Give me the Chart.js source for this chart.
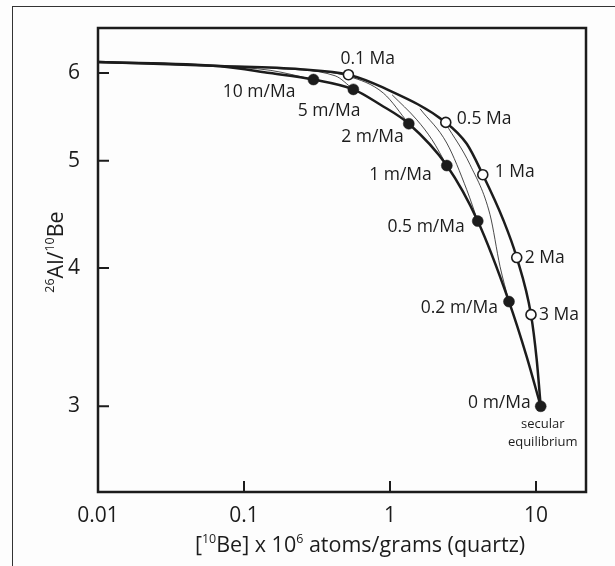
<!DOCTYPE html>
<html>
<head>
<meta charset="utf-8">
<script src="https://cdn.jsdelivr.net/npm/chart.js@4.4.1/dist/chart.umd.min.js"></script>
<style>
  html, body { margin: 0; padding: 0; background: #fdfdfd; }
  #wrap { position: relative; width: 615px; height: 566px; overflow: hidden; }
  #frame { position: absolute; left: 12px; top: 6px; right: -5px; bottom: -5px;
           border-left: 1px solid #333; border-top: 1px solid #333; }
  canvas { position: absolute; left: 0; top: 0; }
</style>
</head>
<body>
<div id="wrap">
  <div id="frame"></div>
  <canvas id="chart" width="615" height="566"></canvas>
</div>
<script>
// ticks
const xTicks = [0.01, 0.1, 1, 10];
const xTickLabels = ['0.01', '0.1', '1', '10'];
const yTicks = [3, 4, 5, 6];
const yTickLabels = ['3', '4', '5', '6'];

// constant exposure, no erosion (open circles = exposure time)
const timeLabels = ['0.1 Ma', '0.5 Ma', '1 Ma', '2 Ma', '3 Ma'];
const timeBe = [0.519, 2.41, 4.32, 7.38, 9.24];
const timeRatio = [5.98, 5.415, 4.857, 4.088, 3.63];

// steady state erosion (filled circles)
const erosionLabels = ['10 m/Ma', '5 m/Ma', '2 m/Ma', '1 m/Ma', '0.5 m/Ma', '0.2 m/Ma', '0 m/Ma'];
const erosionBe = [0.299, 0.561, 1.345, 2.45, 3.99, 6.53, 10.77];
const erosionRatio = [5.92, 5.80, 5.40, 4.95, 4.41, 3.73, 3.0];

// thick bounding curves
const exposureBe = [0.01, 0.0687, 0.2425, 0.519, 0.901, 2.41, 3.355, 4.32, 5.97, 7.38, 9.24, 10.11, 10.77];
const exposureRatio = [6.14, 6.088, 6.048, 5.98, 5.82, 5.415, 5.179, 4.857, 4.42, 4.088, 3.63, 3.305, 3.0];
const steadyBe = [0.01, 0.0687, 0.151, 0.299, 0.561, 0.855, 1.345, 2.45, 3.99, 6.53, 8.63, 10.77];
const steadyRatio = [6.14, 6.085, 6.0, 5.92, 5.80, 5.62, 5.40, 4.95, 4.41, 3.73, 3.327, 3.0];

// thin exposure-with-erosion paths
const path10Be = [0.0687, 0.151, 0.299];
const path10Ratio = [6.088, 6.035, 5.92];
const path5Be = [0.151, 0.421, 0.561];
const path5Ratio = [6.063, 5.966, 5.80];
const path2Be = [0.2425, 0.519, 0.901, 1.345];
const path2Ratio = [6.048, 5.96, 5.755, 5.40];
const path1Be = [1.034, 1.525, 1.941, 2.45];
const path1Ratio = [5.735, 5.445, 5.223, 4.95];
const path05Be = [1.607, 2.448, 3.355, 3.99];
const path05Ratio = [5.57, 5.187, 4.707, 4.41];
const path02Be = [2.41, 3.533, 4.842, 5.67, 6.53];
const path02Ratio = [5.40, 4.959, 4.469, 4.013, 3.73];

const ink = '#1c1c1c';
const pts = (xs, ys) => xs.map((x, i) => ({ x: x, y: ys[i] }));

function curve(xs, ys, w) {
  return {
    data: pts(xs, ys), showLine: true, borderColor: ink, borderWidth: w,
    pointRadius: 0, cubicInterpolationMode: 'monotone', fill: false
  };
}

// label placement relative to the marker: [dx, dy, align]
const timeLabelPos = [[-8, -16, 'left'], [11, -3, 'left'], [12, -3, 'left'], [8, 0, 'left'], [8, 0, 'left']];
const erosionLabelPos = [[-18, 12, 'right'], [7, 22, 'right'], [-5, 13, 'right'], [-15, 9, 'right'],
                         [-13, 6, 'right'], [-11, 6, 'right'], [-10, -3, 'right']];

function richWidth(ctx, parts, size) {
  let w = 0;
  parts.forEach(p => {
    ctx.font = (p[1] ? size * 0.58 : size) + 'px "Open Sans"';
    w += ctx.measureText(p[0]).width;
  });
  return w;
}
function drawRich(ctx, parts, size, x, y) {
  let cx = x;
  parts.forEach(p => {
    ctx.font = (p[1] ? size * 0.58 : size) + 'px "Open Sans"';
    ctx.fillText(p[0], cx, p[1] ? y - size * 0.42 : y);
    cx += ctx.measureText(p[0]).width;
  });
}

const decor = {
  id: 'decor',
  beforeDatasetsDraw(chart) {
    const ctx = chart.ctx, a = chart.chartArea;
    const sx = chart.scales.x, sy = chart.scales.y;
    ctx.save();
    ctx.strokeStyle = ink;
    ctx.lineWidth = 2.5;
    ctx.strokeRect(a.left, a.top, a.right - a.left, a.bottom - a.top);
    ctx.lineWidth = 2;
    ctx.beginPath();
    xTicks.forEach(v => {
      const px = sx.getPixelForValue(v);
      if (px > a.left + 2) { ctx.moveTo(px, a.bottom); ctx.lineTo(px, a.bottom - 11); }
    });
    yTicks.forEach(v => {
      const py = sy.getPixelForValue(v);
      ctx.moveTo(a.left, py); ctx.lineTo(a.left + 11, py);
    });
    ctx.stroke();
    ctx.restore();
  },
  afterDatasetsDraw(chart) {
    const ctx = chart.ctx;
    ctx.save();
    ctx.fillStyle = ink;
    ctx.textBaseline = 'middle';
    ctx.font = '17.5px "Open Sans"';
    const tMeta = chart.getDatasetMeta(0), eMeta = chart.getDatasetMeta(1);
    timeLabels.forEach((t, i) => {
      const p = tMeta.data[i], o = timeLabelPos[i];
      ctx.textAlign = o[2];
      ctx.fillText(t, p.x + o[0], p.y + o[1]);
    });
    erosionLabels.forEach((t, i) => {
      const p = eMeta.data[i], o = erosionLabelPos[i];
      ctx.textAlign = o[2];
      ctx.fillText(t, p.x + o[0], p.y + o[1]);
    });
    const last = eMeta.data[erosionLabels.length - 1];
    ctx.font = '13px "Open Sans"';
    ctx.textAlign = 'center';
    ctx.fillText('secular', last.x + 2, last.y + 18);
    ctx.fillText('equilibrium', last.x + 2, last.y + 36);

    // axis titles
    ctx.textAlign = 'left';
    ctx.textBaseline = 'alphabetic';
    const xParts = [['[', false], ['10', true], ['Be] x 10', false], ['6', true], [' atoms/grams (quartz)', false]];
    const xw = richWidth(ctx, xParts, 21.5);
    drawRich(ctx, xParts, 21.5, 360 - xw / 2, 552);
    const yParts = [['26', true], ['Al/', false], ['10', true], ['Be', false]];
    const yw = richWidth(ctx, yParts, 21.5);
    ctx.translate(63, 252);
    ctx.rotate(-Math.PI / 2);
    drawRich(ctx, yParts, 21.5, -yw / 2, 0);
    ctx.restore();
  }
};

new Chart(document.getElementById('chart'), {
  type: 'scatter',
  data: {
    datasets: [
      { data: pts(timeBe, timeRatio), pointRadius: 5, pointBackgroundColor: '#ffffff',
        pointBorderColor: ink, pointBorderWidth: 1.6, showLine: false },
      { data: pts(erosionBe, erosionRatio), pointRadius: 5.5, pointBackgroundColor: ink,
        pointBorderColor: ink, pointBorderWidth: 0.5, showLine: false },
      curve(exposureBe, exposureRatio, 2.5),
      curve(steadyBe, steadyRatio, 2.5),
      curve(path10Be, path10Ratio, 0.8),
      curve(path5Be, path5Ratio, 0.8),
      curve(path2Be, path2Ratio, 0.8),
      curve(path1Be, path1Ratio, 0.8),
      curve(path05Be, path05Ratio, 0.8),
      curve(path02Be, path02Ratio, 0.8)
    ]
  },
  options: {
    responsive: false,
    animation: false,
    devicePixelRatio: 1,
    layout: { padding: { top: 28, right: 29, left: 0, bottom: 0 } },
    plugins: { legend: { display: false }, tooltip: { enabled: false } },
    scales: {
      x: {
        type: 'logarithmic', min: 0.01, max: 22,
        grid: { display: false }, border: { display: false },
        afterBuildTicks: s => { s.ticks = xTicks.map(v => ({ value: v })); },
        afterFit: s => { s.height = 74; },
        ticks: {
          color: ink, font: { size: 21, family: 'Open Sans' }, padding: 3, maxRotation: 0,
          callback: (v) => xTickLabels[xTicks.indexOf(v)]
        }
      },
      y: {
        type: 'logarithmic', min: 2.51, max: 6.59,
        grid: { display: false }, border: { display: false },
        afterBuildTicks: s => { s.ticks = yTicks.map(v => ({ value: v })); },
        afterFit: s => { s.width = 98; },
        ticks: {
          color: ink, font: { size: 21, family: 'Open Sans' }, padding: 10,
          callback: (v) => yTickLabels[yTicks.indexOf(v)]
        }
      }
    }
  },
  plugins: [decor]
});
</script>
</body>
</html>
